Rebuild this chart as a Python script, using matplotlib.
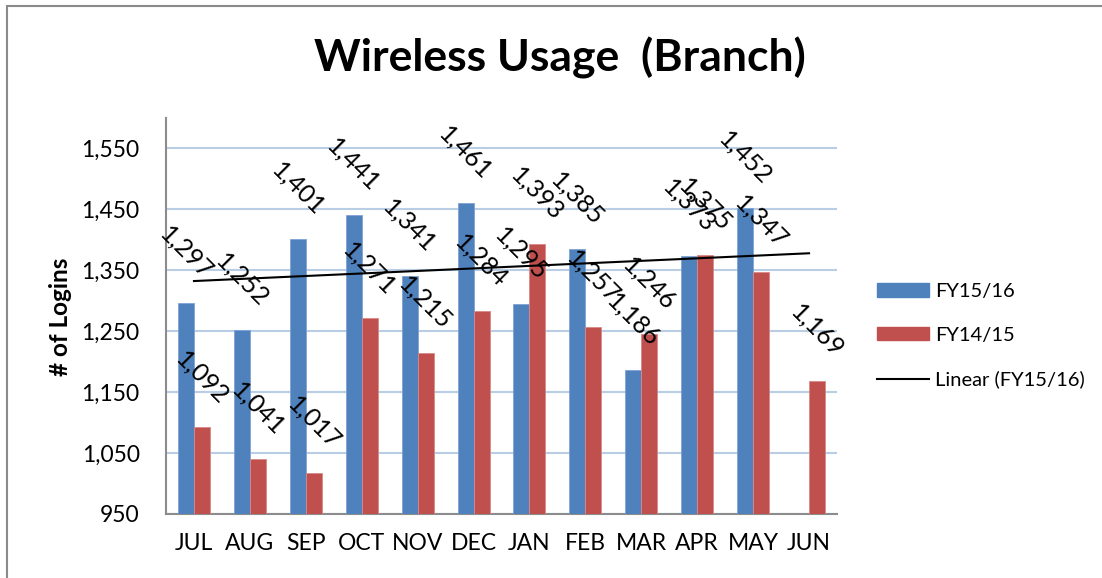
import numpy as np
import matplotlib
matplotlib.use("Agg")
import matplotlib.pyplot as plt
from matplotlib.patches import Patch, Rectangle
from matplotlib.lines import Line2D

months = ["JUL", "AUG", "SEP", "OCT", "NOV", "DEC", "JAN", "FEB", "MAR", "APR", "MAY", "JUN"]
fy1516 = [1297, 1252, 1401, 1441, 1341, 1461, 1295, 1385, 1186, 1373, 1452, np.nan]
fy1415 = [1092, 1041, 1017, 1271, 1215, 1284, 1393, 1257, 1246, 1375, 1347, 1169]
yticks = [950, 1050, 1150, 1250, 1350, 1450, 1550]

FONT = ["Lato", "DejaVu Sans"]
plt.rcParams["font.family"] = FONT

BLUE = "#4F81BD"
RED = "#C0504D"
GRID = "#B9CDE5"

fig = plt.figure(figsize=(11.02, 5.78), dpi=100)
ax = fig.add_axes([166 / 1102, 1 - 514 / 578, (837 - 166) / 1102, (514 - 118) / 578])

x = np.arange(len(months))
w = 0.286
ax.bar(x - w / 2, fy1516, w, color=BLUE, edgecolor="#7FA3D3", linewidth=0.6, zorder=3)
ax.bar(x + w / 2, fy1415, w, color=RED, edgecolor="#D88A88", linewidth=0.6, zorder=3)

# linear trendline of FY15/16
y1 = np.array(fy1516, dtype=float)
mask = ~np.isnan(y1)
coef = np.polyfit(x[mask] + 1, y1[mask], 1)
xt = np.array([x[0], x[-1]])
ax.plot(xt, np.polyval(coef, xt + 1), color="black", lw=1.5, zorder=4)

# data labels
for xs, vals in ((x - w / 2, fy1516), (x + w / 2, fy1415)):
    for xi, v in zip(xs, vals):
        if np.isnan(v):
            continue
        ax.annotate(f"{int(v):,}", xy=(xi, v), xytext=(0, 36), textcoords="offset points",
                    ha="center", va="center", rotation=-45, rotation_mode="anchor",
                    fontsize=18, color="black", zorder=6, annotation_clip=False)

ax.set_ylim(950, 1600)
ax.set_xlim(-0.5, len(months) - 0.5)
ax.set_yticks(yticks)
ax.set_yticklabels([f"{t:,}" for t in yticks])
ax.set_xticks(x)
ax.set_xticklabels(months)
ax.tick_params(axis="y", length=0, pad=19, labelsize=16.5)
ax.tick_params(axis="x", length=0, pad=14, labelsize=16.5)
ax.grid(axis="y", color=GRID, lw=1.5, zorder=0)
ax.set_axisbelow(True)
for s in ("top", "right"):
    ax.spines[s].set_visible(False)
for s in ("left", "bottom"):
    ax.spines[s].set_color("#8C8C8C")
    ax.spines[s].set_linewidth(1.5)

fig.text(560 / 1102, 1 - 58 / 578, "Wireless Usage  (Branch)", ha="center", va="center",
         fontsize=32, fontweight="bold")
fig.text(60 / 1102, 1 - 317 / 578, "# of Logins", ha="center", va="center", rotation=90,
         fontsize=17.5, fontweight="bold")

handles = [Patch(color=BLUE), Patch(color=RED), Line2D([], [], color="black", lw=1.5)]
labels = ["FY15/16", "FY14/15", "Linear (FY15/16)"]
fig.legend(handles, labels, loc="upper left", bbox_to_anchor=(877 / 1102, 1 - 283 / 578),
           frameon=False, fontsize=14.5, handlelength=2.6, handleheight=0.65,
           handletextpad=0.3, labelspacing=1.33, borderpad=0, borderaxespad=0)

fig.add_artist(Rectangle((7 / 1102, -0.5), 2, 0.5 + (1 - 6 / 578), transform=fig.transFigure,
                         fill=False, ec="#8A8A8A", lw=1.5))

fig.savefig("out.png", dpi=100)
